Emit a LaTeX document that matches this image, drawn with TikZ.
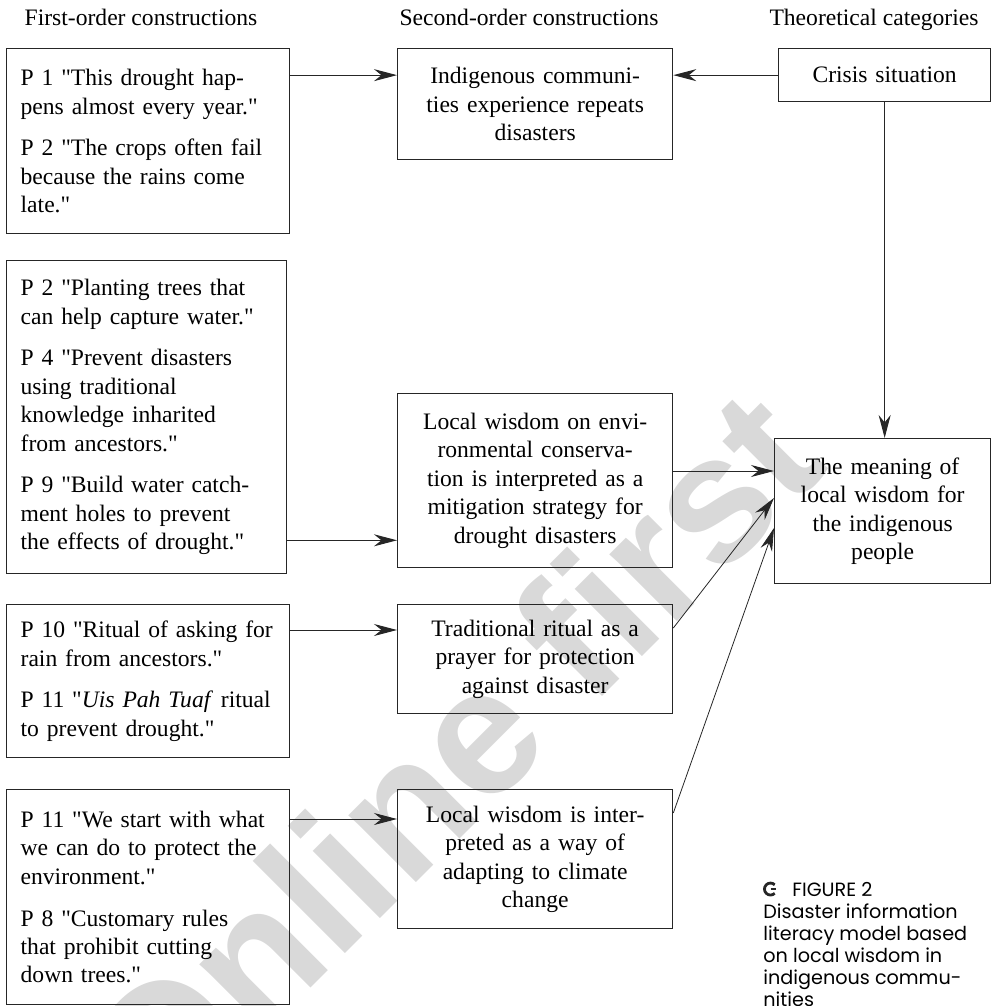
\documentclass[tikz,border=0pt]{standalone}
\usepackage{fontspec}
\newfontfamily\bodyserif{Liberation Serif}
\newfontfamily\capfont{Poppins}
\newfontfamily\wmfont{Liberation Sans}
\newcommand\bodyfont{\bodyserif\fontsize{11.8}{14.2}\selectfont}
\usetikzlibrary{arrows.meta}

\begin{document}
\begin{tikzpicture}[x=0.5pt, y=-0.5pt, every node/.style={font=\bodyfont}, quote/.style={draw=black!85,line width=0.65pt,anchor=north west,align=left,inner xsep=7pt,inner ysep=0pt}, code/.style={draw=black!85,line width=0.65pt,anchor=north west,align=center,inner xsep=3pt,inner ysep=0pt}, arr/.style={-{Stealth[length=11.5pt,width=6pt]},line width=0.5pt,black!85}, figcap/.style={font=\capfont\fontsize{9.6}{11}\selectfont,inner sep=0pt}]
\useasboundingbox (0,0) rectangle (991,1006);
\node[rotate=45,text=black!15,font=\wmfont\bfseries\fontsize{90}{90}\selectfont] (wm) at (450,758) {Online first};
\node[anchor=base] (h1) at (141,26) {First-order constructions};
\node[anchor=base] (h2) at (529,26) {Second-order constructions};
\node[anchor=base] (h3) at (874,26) {Theoretical categories};
\node[quote,text width=127.5pt,minimum height=92.5pt] (p1) at (6,48) {P 1 "This drought hap-\\pens almost every year."\\[6.7pt]P 2 "The crops often fail\\because the rains come\\late."};
\node[quote,text width=126pt,minimum height=156.5pt] (p2) at (6,260) {P 2 "Planting trees that\\can help capture water."\\[6.7pt]P 4 "Prevent disasters\\using traditional\\knowledge inharited\\from ancestors."\\[6.7pt]P 9 "Build water catch-\\ment holes to prevent\\the effects of drought."};
\node[quote,text width=127.5pt,minimum height=76.5pt] (p10) at (6,604) {P 10 "Ritual of asking for\\rain from ancestors."\\[6.7pt]P 11 "\textit{Uis Pah Tuaf} ritual\\to prevent drought."};
\node[quote,text width=127.5pt,minimum height=107.5pt] (p11) at (6,789) {P 11 "We start with what\\we can do to protect the\\environment."\\[6.7pt]P 8 "Customary rules\\that prohibit cutting\\down trees."};
\node[code,text width=131.5pt,minimum height=55.5pt] (ind) at (397,48) {Indigenous communi-\\ties experience repeats\\disasters};
\node[code,text width=131.5pt,minimum height=87pt] (lwe) at (397,393) {Local wisdom on envi-\\ronmental conserva-\\tion is interpreted as a\\mitigation strategy for\\drought disasters};
\node[code,text width=131.5pt,minimum height=54.5pt] (trad) at (397,604) {Traditional ritual as a\\prayer for protection\\against disaster};
\node[code,text width=131.5pt,minimum height=69.5pt] (lwi) at (397,789) {Local wisdom is inter-\\preted as a way of\\adapting to climate\\change};
\node[code,text width=100pt,minimum height=26.5pt] (cri) at (778,48) {Crisis situation};
\node[code,text width=102pt,minimum height=72.5pt] (mean) at (774,438) {The meaning of\\local wisdom for\\the indigenous\\people};
\draw[arr] (p1.east |- cri.west) -- (ind.west |- cri.west); \draw[arr] (cri.west) -- (ind.east |- cri.west);
\draw[arr] (cri.south) -- (cri.south |- mean.north);
\draw[arr] ([yshift=17pt]p2.south east) -- ([yshift=14pt]lwe.south west);
\draw[arr] ([yshift=-13pt]p10.north east) -- ([yshift=-13pt]trad.north west);
\draw[arr] ([yshift=-15pt]p11.north east) -- ([yshift=-15pt]lwi.north west);
\draw[arr] ([yshift=-39pt]lwe.north east) -- ([yshift=-16.5pt]mean.north west);
\draw[arr,line width=0.4pt] ([yshift=-12pt]trad.north east) -- ([yshift=-30pt]mean.north west);
\draw[arr,line width=0.4pt] ([yshift=-12pt]lwi.north east) -- ([yshift=-45pt]mean.north west);
\draw[line width=1.4pt,black!85] (774.7,884.8) arc[start angle=45,end angle=315,radius=3pt]; \draw[line width=1.2pt,black!85] (770.5,889) -- (776,889);
\node[figcap,anchor=base west] (fig) at (792,896) {FIGURE 2};
\node[figcap,anchor=north west,align=left] (caption) at (763,903) {Disaster information\\literacy model based\\on local wisdom in\\indigenous commu-\\nities};
\end{tikzpicture}
\end{document}
